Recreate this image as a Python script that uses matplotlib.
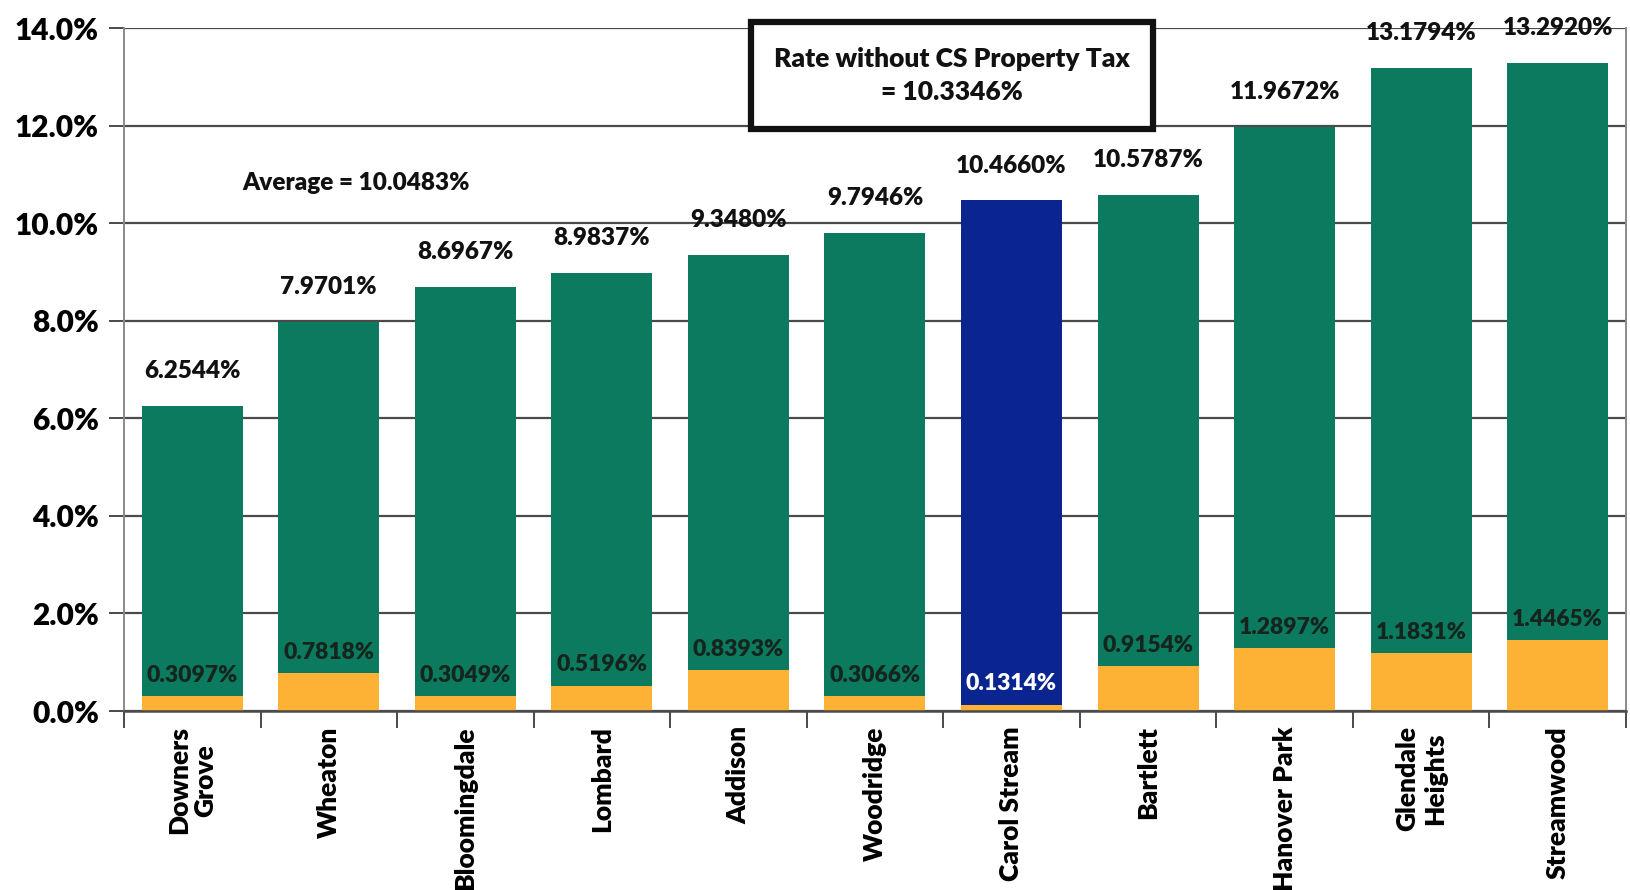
import matplotlib
matplotlib.use("Agg")
import matplotlib.pyplot as plt
from matplotlib.patches import Rectangle
import numpy as np

plt.rcParams['font.family'] = ['Lato', 'DejaVu Sans']
W = 'heavy'

# Municipal tax rates, total and the property-tax share
towns = ["Downers\nGrove", "Wheaton", "Bloomingdale", "Lombard", "Addison", "Woodridge",
         "Carol Stream", "Bartlett", "Hanover Park", "Glendale\nHeights", "Streamwood"]
total_rate = [6.2544, 7.9701, 8.6967, 8.9837, 9.3480, 9.7946,
              10.4660, 10.5787, 11.9672, 13.1794, 13.2920]
property_rate = [0.3097, 0.7818, 0.3049, 0.5196, 0.8393, 0.3066,
                 0.1314, 0.9154, 1.2897, 1.1831, 1.4465]
highlight = "Carol Stream"
average_text = "Average = 10.0483%"
box_text = "Rate without CS Property Tax\n= 10.3346%"
y_ticks = [0, 2, 4, 6, 8, 10, 12, 14]

GREEN = "#0b7a5f"
ORANGE = "#fdb236"
BLUE = "#0b2590"
GRID = "#4a4a4a"

fig = plt.figure(figsize=(16.31, 8.90), dpi=100)
ax = fig.add_axes([0.076, 0.2011, 0.9209, 0.7674])

x = np.arange(len(towns))
total = np.array(total_rate)
prop = np.array(property_rate)
upper = total - prop
top_colors = [BLUE if t == highlight else GREEN for t in towns]

ax.bar(x, prop, width=0.74, color=ORANGE, zorder=3)
ax.bar(x, upper, bottom=prop, width=0.74, color=top_colors, zorder=3)

ax.set_xlim(-0.5, len(towns) - 0.5)
ax.set_ylim(0, 14)
ax.set_yticks(y_ticks)
ax.set_yticklabels([f"{v:.1f}%" for v in y_ticks], fontsize=21.5, fontweight=W)
ax.yaxis.grid(True, color=GRID, linewidth=1.6, zorder=0)
ax.tick_params(axis='y', length=11, width=1.4, color=GRID, pad=7)

# Category names centred under bars, boundary ticks between them
ax.set_xticks(x)
ax.set_xticklabels(towns, rotation=90, fontsize=19, fontweight=W,
                   ha='center', va='top', multialignment='center', linespacing=1.15)
ax.tick_params(axis='x', which='major', length=0, pad=11)
ax.set_xticks(np.arange(-0.5, len(towns), 1.0), minor=True)
ax.tick_params(axis='x', which='minor', length=12, width=1.4, color=GRID)

ax.spines['top'].set_visible(False)
for side in ('left', 'right'):
    ax.spines[side].set_color("#8a8a8a")
    ax.spines[side].set_linewidth(1.4)
ax.spines['bottom'].set_color(GRID)
ax.spines['bottom'].set_linewidth(1.8)
ax.spines['bottom'].set_zorder(4)

# Totals above each bar
for xi, t in zip(x, total):
    ax.annotate(f"{t:.4f}%", xy=(xi, t), xytext=(0, 25), textcoords='offset points',
                ha='center', va='center', fontsize=17.5, fontweight=W,
                color="#111111", zorder=5, annotation_clip=False)

# Property-tax share just above the orange segment
for xi, p, name in zip(x, prop, towns):
    ax.annotate(f"{p:.4f}%", xy=(xi, p), xytext=(0, 15), textcoords='offset points',
                ha='center', va='center', fontsize=16.5, fontweight=W,
                color="white" if name == highlight else "#15241d", zorder=5)

ax.text(1.2, 10.82, average_text, ha='center', va='center', fontsize=17.5,
        fontweight=W, color="#111111", zorder=5)

# Framed note on the highlighted rate
ax.add_patch(Rectangle((4.09, 11.93), 2.945, 2.2, facecolor='white', edgecolor='#111111',
                       linewidth=4.5, zorder=6, clip_on=False))
ax.text(5.565, 13.03, box_text, ha='center', va='center', fontsize=19,
        fontweight=W, color="#111111", linespacing=1.45, zorder=7)

fig.savefig("out.png", dpi=100)
